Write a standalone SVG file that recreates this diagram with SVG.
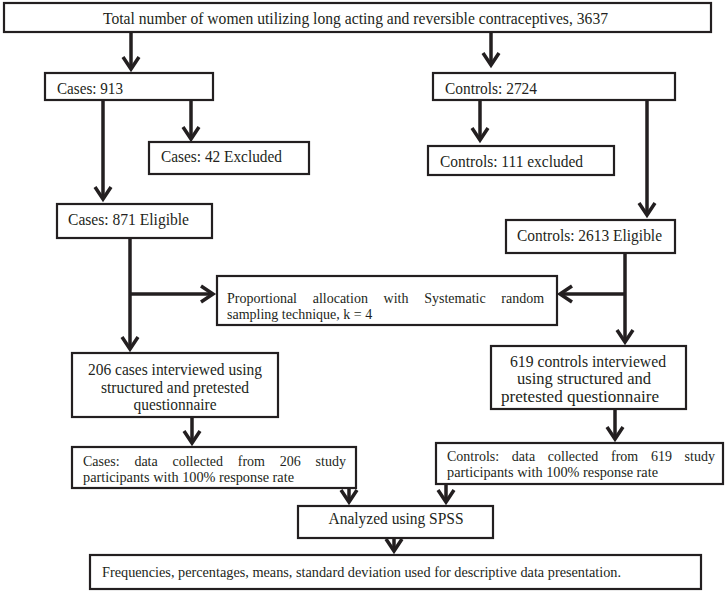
<svg xmlns="http://www.w3.org/2000/svg" width="727" height="592" viewBox="0 0 727 592">
<style>
.box{fill:#fff;stroke:#231f20;stroke-width:2.2}
.t{font-family:"Liberation Serif","Times New Roman",serif;fill:#231f20;font-size:16px}
.s{font-size:14px}
.c{stroke:#231f20;stroke-width:3.5;fill:none}
</style>
<defs>
<marker id="arr" markerUnits="userSpaceOnUse" viewBox="-16 -12 24 24" refX="0" refY="0" markerWidth="24" markerHeight="24" orient="auto">
<path d="M-12,-8 L0,0 L-12,8" fill="none" stroke="#231f20" stroke-width="3.5"/>
</marker>
</defs>
<rect width="727" height="592" fill="#fff"/>
<g id="connectors">
<path class="c" marker-end="url(#arr)" d="M131,32 V69"/>
<path class="c" marker-end="url(#arr)" d="M491,32 V65"/>
<path class="c" marker-end="url(#arr)" d="M103,100 V199"/>
<path class="c" marker-end="url(#arr)" d="M191,100 V139"/>
<path class="c" marker-end="url(#arr)" d="M480,100 V140"/>
<path class="c" marker-end="url(#arr)" d="M647,100 V215"/>
<path class="c" marker-end="url(#arr)" d="M130,238 V349"/>
<path class="c" marker-end="url(#arr)" d="M130,294 H213"/>
<path class="c" marker-end="url(#arr)" d="M625,253 V342"/>
<path class="c" marker-end="url(#arr)" d="M625,294 H560"/>
<path class="c" marker-end="url(#arr)" d="M192,417 V443"/>
<path class="c" marker-end="url(#arr)" d="M615,409 V439"/>
<path class="c" marker-end="url(#arr)" d="M349,488 V502"/>
<path class="c" marker-end="url(#arr)" d="M446,484 V502"/>
<path class="c" marker-end="url(#arr)" d="M394,538 V551"/>
</g>
<g id="total">
<rect class="box" x="4" y="3" width="707" height="29"/>
<text class="t" x="103" y="24" textLength="505" lengthAdjust="spacingAndGlyphs">Total number of women utilizing long acting and reversible contraceptives, 3637</text>
</g>
<g id="cases913">
<rect class="box" x="45" y="73" width="168" height="27"/>
<text class="t" x="57" y="94" textLength="66" lengthAdjust="spacingAndGlyphs">Cases: 913</text>
</g>
<g id="controls2724">
<rect class="box" x="433" y="73" width="242" height="27"/>
<text class="t" x="445" y="94" textLength="92" lengthAdjust="spacingAndGlyphs">Controls: 2724</text>
</g>
<g id="cases42">
<rect class="box" x="149" y="142" width="160" height="32"/>
<text class="t" x="161" y="162" textLength="121" lengthAdjust="spacingAndGlyphs">Cases: 42 Excluded</text>
</g>
<g id="controls111">
<rect class="box" x="428" y="146" width="186" height="29"/>
<text class="t" x="440" y="167" textLength="143" lengthAdjust="spacingAndGlyphs">Controls: 111 excluded</text>
</g>
<g id="cases871">
<rect class="box" x="57" y="204" width="155" height="34"/>
<text class="t" x="68" y="225" textLength="121" lengthAdjust="spacingAndGlyphs">Cases: 871 Eligible</text>
</g>
<g id="controls2613">
<rect class="box" x="506" y="220" width="169" height="33"/>
<text class="t" x="517" y="241" textLength="145" lengthAdjust="spacingAndGlyphs">Controls: 2613 Eligible</text>
</g>
<g id="allocation">
<rect class="box" x="217" y="276" width="340" height="49"/>
<text class="t s" y="303"><tspan x="227">Proportional</tspan><tspan x="312.7">allocation</tspan><tspan x="383.6">with</tspan><tspan x="424.2">Systematic</tspan><tspan x="501.3">random</tspan></text>
<text class="t s" x="227" y="319">sampling technique, k = 4</text>
</g>
<g id="cases206">
<rect class="box" x="72" y="353" width="206" height="64"/>
<text class="t" text-anchor="middle" x="175" y="375" textLength="174" lengthAdjust="spacingAndGlyphs">206 cases interviewed using</text>
<text class="t" text-anchor="middle" x="175" y="393" textLength="148" lengthAdjust="spacingAndGlyphs">structured and pretested</text>
<text class="t" text-anchor="middle" x="175" y="410" textLength="83" lengthAdjust="spacingAndGlyphs">questionnaire</text>
</g>
<g id="controls619">
<rect class="box" x="491" y="346" width="195" height="63"/>
<text class="t" text-anchor="middle" x="588" y="367" textLength="156" lengthAdjust="spacingAndGlyphs">619 controls interviewed</text>
<text class="t" text-anchor="middle" x="584" y="384" textLength="134" lengthAdjust="spacingAndGlyphs">using structured and</text>
<text class="t" text-anchor="middle" x="580" y="402" textLength="158" lengthAdjust="spacingAndGlyphs">pretested questionnaire</text>
</g>
<g id="casesdata">
<rect class="box" x="72" y="447" width="284" height="41"/>
<text class="t s" y="466"><tspan x="83">Cases:</tspan><tspan x="134.4">data</tspan><tspan x="172.5">collected</tspan><tspan x="237.8">from</tspan><tspan x="279.8">206</tspan><tspan x="315.6">study</tspan></text>
<text class="t s" x="83" y="482" textLength="211" lengthAdjust="spacingAndGlyphs">participants with 100% response rate</text>
</g>
<g id="controlsdata">
<rect class="box" x="436" y="443" width="287" height="41"/>
<text class="t s" y="461"><tspan x="447">Controls:</tspan><tspan x="511.8">data</tspan><tspan x="547.8">collected</tspan><tspan x="611">from</tspan><tspan x="650.9">619</tspan><tspan x="684.6">study</tspan></text>
<text class="t s" x="447" y="477" textLength="211" lengthAdjust="spacingAndGlyphs">participants with 100% response rate</text>
</g>
<g id="spss">
<rect class="box" x="298" y="506" width="195" height="32"/>
<text class="t" text-anchor="middle" x="396" y="524" textLength="135" lengthAdjust="spacingAndGlyphs">Analyzed using SPSS</text>
</g>
<g id="descriptive">
<rect class="box" x="90" y="555" width="611" height="34"/>
<text class="t s" x="102" y="577" textLength="519" lengthAdjust="spacingAndGlyphs">Frequencies, percentages, means, standard deviation used for descriptive data presentation.</text>
</g>
</svg>
